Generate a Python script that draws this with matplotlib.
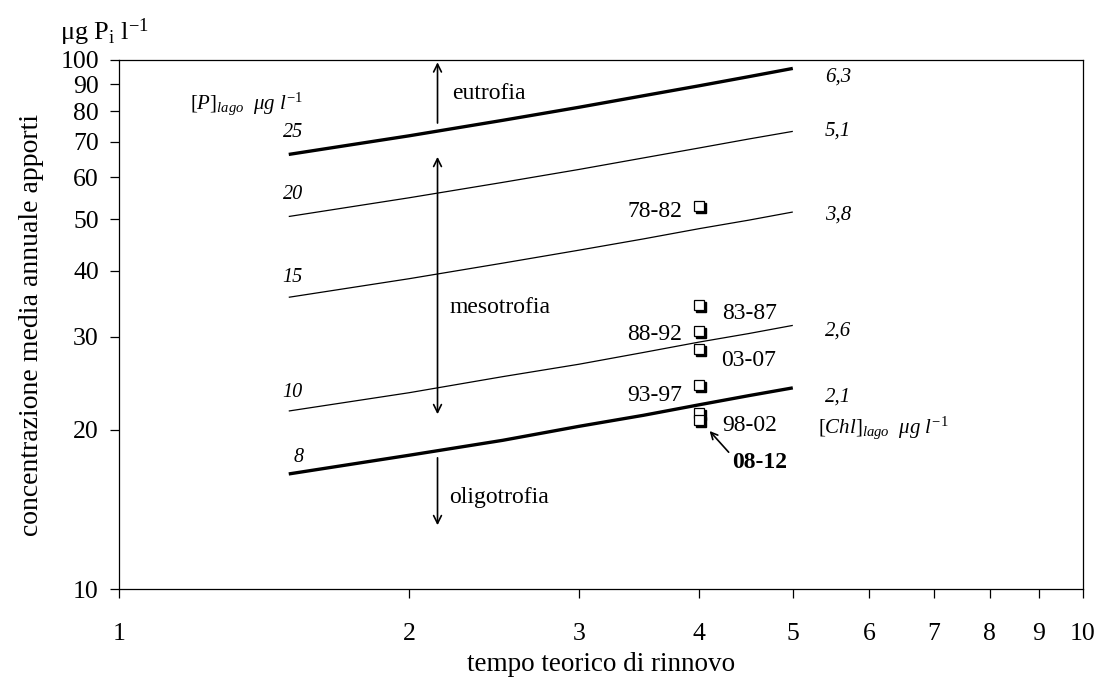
import matplotlib
matplotlib.use("Agg")
import matplotlib.pyplot as plt
from matplotlib.ticker import FixedLocator, FixedFormatter, NullLocator
from matplotlib.transforms import offset_copy

plt.rcParams['font.family'] = ['Liberation Serif', 'DejaVu Serif']
plt.rcParams['mathtext.fontset'] = 'custom'
plt.rcParams['mathtext.rm'] = 'Liberation Serif'
plt.rcParams['mathtext.it'] = 'Liberation Serif:italic'
plt.rcParams['mathtext.bf'] = 'Liberation Serif:bold'

# ---- data ----
tw = [1.5, 2, 2.5, 3, 3.5, 4, 4.5, 5]
p25 = [66.3, 71.9, 76.9, 81.4, 85.6, 89.4, 93.0, 96.4]
p20 = [50.6, 54.9, 58.7, 62.1, 65.3, 68.2, 70.9, 73.3]
p15 = [35.6, 38.6, 41.3, 43.7, 45.9, 48.0, 49.8, 51.6]
p10 = [21.7, 23.5, 25.2, 26.6, 28.0, 29.3, 30.4, 31.5]
p8 = [16.5, 17.9, 19.1, 20.3, 21.3, 22.3, 23.2, 24.0]
lake_p_labels = ['25', '20', '15', '10', '8']
chl_labels = ['6,3', '5,1', '3,8', '2,6', '2,1']

periods = ['78-82', '83-87', '88-92', '93-97', '98-02', '03-07', '08-12']
tw_pts = [4, 4, 4, 4, 4, 4, 4]
p_pts = [53.0, 34.4, 30.8, 24.3, 21.5, 28.4, 20.9]

xticks = [1, 2, 3, 4, 5, 6, 7, 8, 9, 10]
yticks = [10, 20, 30, 40, 50, 60, 70, 80, 90, 100]

# trophic arrows: (x, y_from, y_to)
arrow_x = 2.14
eu_arrow = (76, 99)
meso_arrow = (65.6, 21.4)
oligo_arrow = (17.7, 13.2)

# ---- figure ----
fig = plt.figure(figsize=(11.02, 6.84), dpi=100)
ax = fig.add_axes([119/1102, 1-589/684, (1083-119)/1102, (589-60)/684])
ax.set_xscale('log')
ax.set_yscale('log')
ax.set_xlim(1, 10)
ax.set_ylim(10, 100)

series = [p25, p20, p15, p10, p8]
widths = [2.4, 0.9, 0.9, 0.9, 2.4]
left_off = [(4, 22), (4, 22), (4, 20), (4, 19), (10, 16)]
right_off = [(32, -9), (32, 0), (32, -3), (32, -6), (32, -9)]
for ys, lw, lab, chl, lo, ro in zip(series, widths, lake_p_labels, chl_labels, left_off, right_off):
    ax.plot(tw, ys, color='black', lw=lw, solid_capstyle='butt')
    ax.annotate(lab, xy=(tw[0], ys[0]), xytext=lo, textcoords='offset pixels',
                ha='center', va='center', fontsize=14.5, style='italic')
    ax.annotate(chl, xy=(tw[-1], ys[-1]), xytext=ro, textcoords='offset pixels',
                ha='left', va='center', fontsize=15, style='italic')

# points with shadow
shadow = offset_copy(ax.transData, fig=fig, x=2, y=-2, units='dots')
ax.plot(tw_pts, p_pts, 's', ms=6.5, color='black', transform=shadow, zorder=4)
ax.plot(tw_pts, p_pts, 's', ms=6.5, mfc='white', mec='black', mew=0.9, zorder=5)

pt_off = {'78-82': (-17, -6, 'right'), '83-87': (23, -8, 'left'),
          '88-92': (-17, -4, 'right'), '03-07': (22, -11, 'left'),
          '93-97': (-17, -10, 'right'), '98-02': (23, -12, 'left')}
for lab, x, y in zip(periods, tw_pts, p_pts):
    if lab in pt_off:
        dx, dy, ha = pt_off[lab]
        ax.annotate(lab, xy=(x, y), xytext=(dx, dy), textcoords='offset pixels',
                    ha=ha, va='center', fontsize=17)
    else:
        ax.annotate(lab, xy=(x, y), xytext=(33, -43), textcoords='offset pixels',
                    ha='left', va='center', fontsize=17, fontweight='bold',
                    arrowprops=dict(arrowstyle='->', color='black', lw=1.2,
                                    relpos=(0, 0.8), shrinkA=1, shrinkB=11,
                                    mutation_scale=12))

# trophic arrows
ap = dict(color='black', lw=1.2, mutation_scale=14, shrinkA=0, shrinkB=0)
ax.annotate('', xy=(arrow_x, eu_arrow[1]), xytext=(arrow_x, eu_arrow[0]),
            arrowprops=dict(arrowstyle='->', **ap))
ax.annotate('', xy=(arrow_x, meso_arrow[1]), xytext=(arrow_x, meso_arrow[0]),
            arrowprops=dict(arrowstyle='<->', **ap))
ax.annotate('', xy=(arrow_x, oligo_arrow[1]), xytext=(arrow_x, oligo_arrow[0]),
            arrowprops=dict(arrowstyle='->', **ap))
ax.text(2.215, 86.6, 'eutrofia', ha='left', va='center', fontsize=17)
ax.text(2.20, 34.1, 'mesotrofia', ha='left', va='center', fontsize=17)
ax.text(2.20, 14.9, 'oligotrofia', ha='left', va='center', fontsize=17)

ax.text(1.185, 82.6, r'$\mathit{[P]}_{\mathit{lago}}\ \ \mathit{μg\ l}^{\mathit{-1}}$',
        ha='left', va='center', fontsize=15)
ax.text(5.31, 20.2, r'$\mathit{[Chl]}_{\mathit{lago}}\ \ \mathit{μg\ l}^{\mathit{-1}}$',
        ha='left', va='center', fontsize=15)

# axes styling
ax.xaxis.set_major_locator(FixedLocator(xticks))
ax.xaxis.set_major_formatter(FixedFormatter([str(v) for v in xticks]))
ax.xaxis.set_minor_locator(NullLocator())
ax.yaxis.set_major_locator(FixedLocator(yticks))
ax.yaxis.set_major_formatter(FixedFormatter([str(v) for v in yticks]))
ax.yaxis.set_minor_locator(NullLocator())
ax.tick_params(axis='both', direction='out', length=6.5, width=0.9, labelsize=18.5)
ax.tick_params(axis='x', pad=18)
ax.tick_params(axis='y', pad=8)
for s in ax.spines.values():
    s.set_linewidth(0.9)

ax.set_xlabel('tempo teorico di rinnovo', fontsize=19.5, labelpad=5)
ax.set_ylabel('concentrazione media annuale apporti', fontsize=20, labelpad=12)
fig.text(60/1102, 1-32/684, r'$\mathrm{μg\ P_i\ l^{-1}}$', ha='left', va='center', fontsize=19)

fig.savefig('out.png', dpi=100)
